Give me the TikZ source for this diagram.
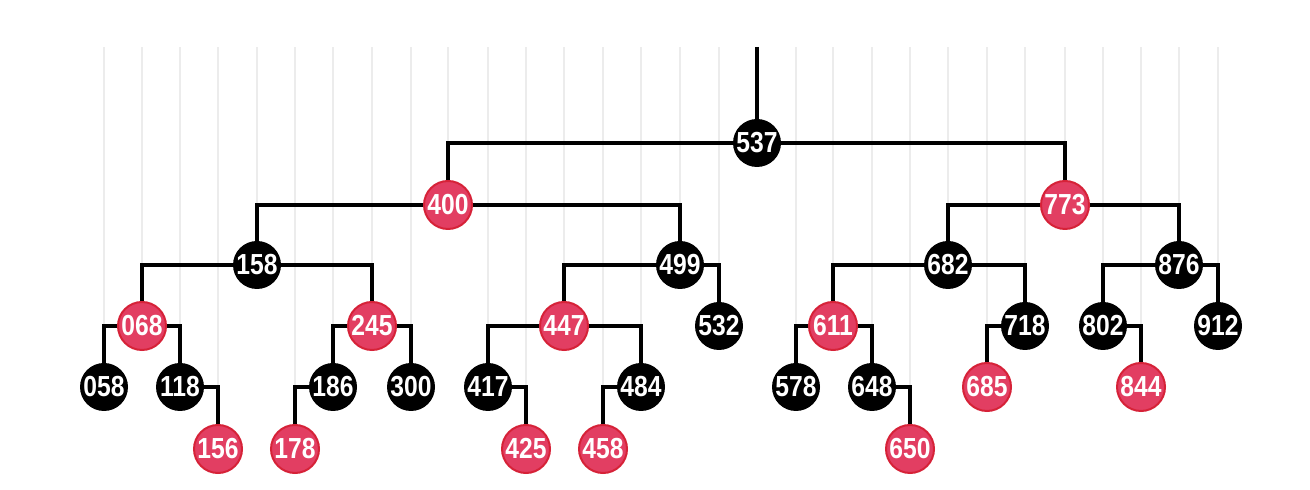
\documentclass[tikz,border=0pt]{standalone}
\usepackage{fontspec}
\newfontfamily\numfont[FakeStretch=0.85]{Liberation Sans}
\usetikzlibrary{backgrounds}
\definecolor{nodered}{HTML}{E23E62}
\definecolor{rimred}{HTML}{D62238}
\definecolor{gridgray}{HTML}{ECECEC}

\begin{document}
\begin{tikzpicture}[x=0.5pt, y=-0.5pt,
    rb node/.style={circle, minimum size=24pt, inner sep=0pt, text=white,
      font=\numfont\fontsize{14.5}{14.5}\selectfont\bfseries},
    black node/.style={rb node, fill=black},
    red node/.style={rb node, fill=nodered, draw=rimred, line width=1pt},
    link/.style={line width=1.6pt},
    grid line/.style={gridgray, line width=1pt}]

          \useasboundingbox (0,0) rectangle (1310,490);

          \node[black node] (537) at (757,143) {537};

          \node[red node] (400) at (448,205) {400};
          \node[red node] (773) at (1065,205) {773};

          \node[black node] (158) at (257,265) {158};
          \node[black node] (499) at (680,265) {499};
          \node[black node] (682) at (948,265) {682};
          \node[black node] (876) at (1179,265) {876};

          \node[red node] (068) at (142,326) {068};
          \node[red node] (245) at (372,326) {245};
          \node[red node] (447) at (564,326) {447};
          \node[black node] (532) at (719,326) {532};
          \node[red node] (611) at (833,326) {611};
          \node[black node] (718) at (1025,326) {718};
          \node[black node] (802) at (1103,326) {802};
          \node[black node] (912) at (1218,326) {912};

          \node[black node] (058) at (104,387) {058};
          \node[black node] (118) at (180,387) {118};
          \node[black node] (186) at (333,387) {186};
          \node[black node] (300) at (411,387) {300};
          \node[black node] (417) at (488,387) {417};
          \node[black node] (484) at (641,387) {484};
          \node[black node] (578) at (796,387) {578};
          \node[black node] (648) at (872,387) {648};
          \node[red node] (685) at (987,387) {685};
          \node[red node] (844) at (1141,387) {844};

          \node[red node] (156) at (218,449) {156};
          \node[red node] (178) at (295,449) {178};
          \node[red node] (425) at (526,449) {425};
          \node[red node] (458) at (603,449) {458};
          \node[red node] (650) at (910,449) {650};

          \coordinate (top) at (757,47);

          \begin{scope}[on background layer]
            % one faint drop line per key
            \foreach \k in {058,068,118,156,158,178,186,245,300,400,417,425,447,458,484,
                            499,532,537,578,611,648,650,682,685,718,773,802,844,876,912}
              \draw[grid line] (\k.center |- top) -- (\k.center);

            \draw[link] (top) -- (537);

            \draw[link] (537) -| (400);
            \draw[link] (537) -| (773);

            \draw[link] (400) -| (158);
            \draw[link] (400) -| (499);
            \draw[link] (773) -| (682);
            \draw[link] (773) -| (876);

            \draw[link] (158) -| (068);
            \draw[link] (158) -| (245);
            \draw[link] (499) -| (447);
            \draw[link] (499) -| (532);
            \draw[link] (682) -| (611);
            \draw[link] (682) -| (718);
            \draw[link] (876) -| (802);
            \draw[link] (876) -| (912);

            \draw[link] (068) -| (058);
            \draw[link] (068) -| (118);
            \draw[link] (245) -| (186);
            \draw[link] (245) -| (300);
            \draw[link] (447) -| (417);
            \draw[link] (447) -| (484);
            \draw[link] (611) -| (578);
            \draw[link] (611) -| (648);
            \draw[link] (718) -| (685);
            \draw[link] (802) -| (844);

            \draw[link] (118) -| (156);
            \draw[link] (186) -| (178);
            \draw[link] (417) -| (425);
            \draw[link] (484) -| (458);
            \draw[link] (648) -| (650);
          \end{scope}

        \end{tikzpicture}
\end{document}
